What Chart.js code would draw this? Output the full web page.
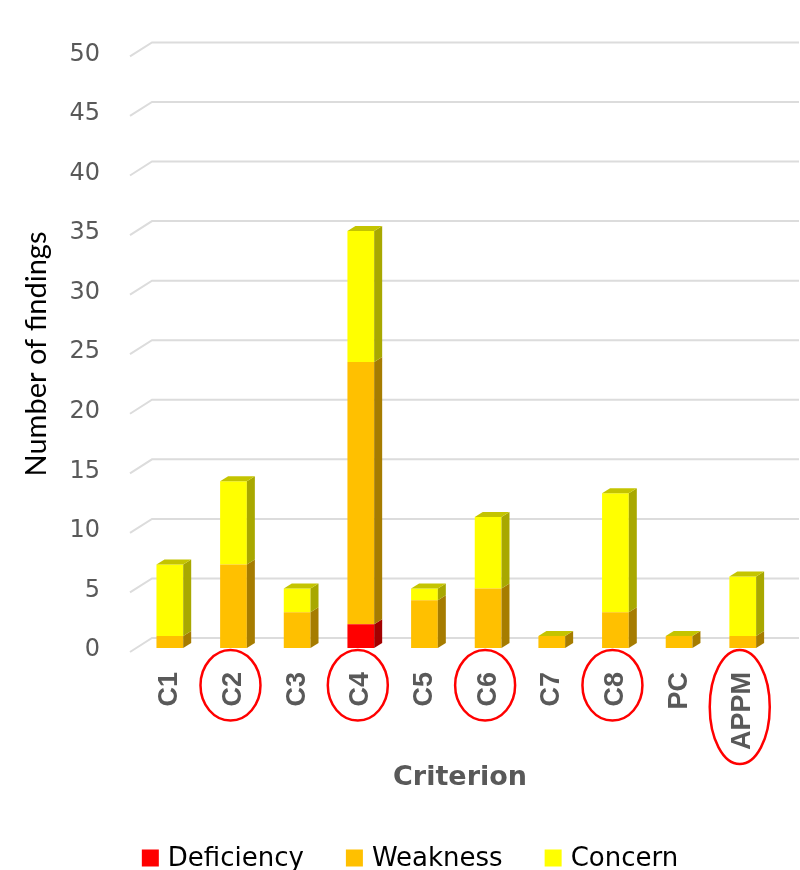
<!DOCTYPE html>
<html>
<head>
<meta charset="utf-8">
<script src="https://cdn.jsdelivr.net/npm/chart.js@4.4.1/dist/chart.umd.min.js"></script>
<style>
  html, body { margin: 0; padding: 0; background: #ffffff; }
  canvas { display: block; }
</style>
</head>
<body>
<canvas id="chart" width="800" height="870"></canvas>
<script>
// Findings per criterion, stacked by severity
const criteria   = ['C1', 'C2', 'C3', 'C4', 'C5', 'C6', 'C7', 'C8', 'PC', 'APPM'];
const deficiency = [0, 0, 0, 2, 0, 0, 0, 0, 0, 0];
const weakness   = [1, 7, 3, 22, 4, 5, 1, 3, 1, 1];
const concern    = [6, 7, 2, 11, 1, 6, 0, 10, 0, 5];
const seriesNames = ['Deficiency', 'Weakness', 'Concern'];
const yMin = 0, yMax = 50, yStep = 5;
// criteria marked with a red ring under the axis
const highlighted = ['C2', 'C4', 'C6', 'C8', 'APPM'];

const frontColors = ['#FF0000', '#FFC000', '#FFFF00'];
const sideColors  = ['#A30000', '#A67C00', '#A8A800'];
const capColor    = '#C4C400';
const gridColor   = '#DCDCDC';
const depthX = 8, depthY = 5;          // bar depth
const wallX = 22, wallY = 14;          // wall offset of the gridlines

const xTickFont = { family: 'Liberation Sans', weight: 'bold', size: 27 };

// Gridlines drawn on a receding wall with a short slanted floor edge
const wallGrid = {
  id: 'wallGrid',
  beforeDatasetsDraw(chart) {
    const { ctx, chartArea } = chart;
    const y = chart.scales.y;
    const x0 = chartArea.left - 8;
    ctx.save();
    ctx.strokeStyle = gridColor;
    ctx.lineWidth = 2;
    y.ticks.forEach(t => {
      const py = y.getPixelForValue(t.value);
      ctx.beginPath();
      ctx.moveTo(x0, py + 4);
      ctx.lineTo(x0 + wallX, py + 4 - wallY);
      ctx.lineTo(chart.width - 1, py + 4 - wallY);
      ctx.stroke();
    });
    ctx.restore();
  }
};

// Side faces and top caps that give the bars depth
const barDepth = {
  id: 'barDepth',
  afterDatasetsDraw(chart) {
    const { ctx } = chart;
    const n = chart.data.datasets.length;
    ctx.save();
    criteria.forEach((_, i) => {
      let capEl = null;
      for (let d = 0; d < n; d++) {
        const el = chart.getDatasetMeta(d).data[i];
        const p = el.getProps(['x', 'y', 'base', 'width'], true);
        const top = Math.min(p.y, p.base), bottom = Math.max(p.y, p.base);
        const right = p.x + p.width / 2;
        if (bottom - top > 0.5) {
          ctx.fillStyle = sideColors[d];
          ctx.beginPath();
          ctx.moveTo(right, top);
          ctx.lineTo(right + depthX, top - depthY);
          ctx.lineTo(right + depthX, bottom - depthY);
          ctx.lineTo(right, bottom);
          ctx.closePath();
          ctx.fill();
        }
        capEl = p;
      }
      const top = Math.min(capEl.y, capEl.base);
      const left = capEl.x - capEl.width / 2, right = capEl.x + capEl.width / 2;
      ctx.fillStyle = capColor;
      ctx.beginPath();
      ctx.moveTo(left, top);
      ctx.lineTo(left + depthX, top - depthY);
      ctx.lineTo(right + depthX, top - depthY);
      ctx.lineTo(right, top);
      ctx.closePath();
      ctx.fill();
    });
    ctx.restore();
  }
};

// Axis titles, legend and the red rings around highlighted criteria
const annotations = {
  id: 'annotations',
  afterDraw(chart) {
    const { ctx, chartArea } = chart;
    const xs = chart.scales.x;
    ctx.save();

    // y-axis title
    ctx.fillStyle = '#000000';
    ctx.font = '29px Lato';
    ctx.textAlign = 'center';
    ctx.textBaseline = 'middle';
    ctx.translate(37, 354);
    ctx.rotate(-Math.PI / 2);
    ctx.fillText('Number of findings', 0, 0);
    ctx.setTransform(1, 0, 0, 1, 0, 0);

    // x-axis title
    ctx.fillStyle = '#595959';
    ctx.font = 'bold 27px "DejaVu Sans"';
    ctx.fillText('Criterion', 460, 778);

    // legend
    ctx.font = '26px "DejaVu Sans"';
    ctx.textAlign = 'left';
    const box = 17, boxGap = 9, itemGap = 42;
    const widths = seriesNames.map(s => box + boxGap + ctx.measureText(s).width);
    const total = widths.reduce((a, b) => a + b, 0) + itemGap * (widths.length - 1);
    let lx = 410 - total / 2;
    const ly = 858;
    seriesNames.forEach((s, k) => {
      ctx.fillStyle = frontColors[k];
      ctx.fillRect(lx, ly - box / 2, box, box);
      ctx.fillStyle = '#000000';
      ctx.fillText(s, lx + box + boxGap, ly + 1);
      lx += widths[k] + itemGap;
    });

    // rings
    ctx.font = `bold ${xTickFont.size}px "${xTickFont.family}"`;
    ctx.strokeStyle = '#FF0000';
    ctx.lineWidth = 2.5;
    const labelTop = chartArea.bottom + chart.options.scales.x.ticks.padding;
    highlighted.forEach(lbl => {
      const idx = criteria.indexOf(lbl);
      const w = ctx.measureText(lbl).width;
      const cx = xs.getPixelForValue(idx) - 3;
      const cy = labelTop + w / 2 - 4;
      ctx.beginPath();
      ctx.ellipse(cx, cy, 30, w / 2 + 18, 0, 0, Math.PI * 2);
      ctx.stroke();
    });
    ctx.restore();
  }
};

const seriesData = [deficiency, weakness, concern];

new Chart(document.getElementById('chart'), {
  type: 'bar',
  data: {
    labels: criteria,
    datasets: seriesNames.map((name, k) => ({
      label: name,
      data: seriesData[k],
      backgroundColor: frontColors[k],
      borderWidth: 0,
      categoryPercentage: 0.42,
      barPercentage: 1
    }))
  },
  options: {
    responsive: false,
    animation: false,
    devicePixelRatio: 1,
    layout: { padding: { top: 50, right: 17, left: 0, bottom: 0 } },
    plugins: { legend: { display: false }, tooltip: { enabled: false } },
    scales: {
      x: {
        stacked: true,
        grid: { display: false, drawTicks: false },
        border: { display: false },
        ticks: { minRotation: 90, maxRotation: 90, padding: 24, color: '#595959', font: xTickFont },
        afterFit(s) { s.height = 222; }
      },
      y: {
        stacked: true,
        min: yMin,
        max: yMax,
        grid: { display: false, drawTicks: false },
        border: { display: false },
        ticks: { stepSize: yStep, padding: 38, labelOffset: 2, color: '#595959', font: { family: 'DejaVu Sans', size: 24 } },
        afterFit(s) { s.width = 138; }
      }
    }
  },
  plugins: [wallGrid, barDepth, annotations]
});
</script>
</body>
</html>
